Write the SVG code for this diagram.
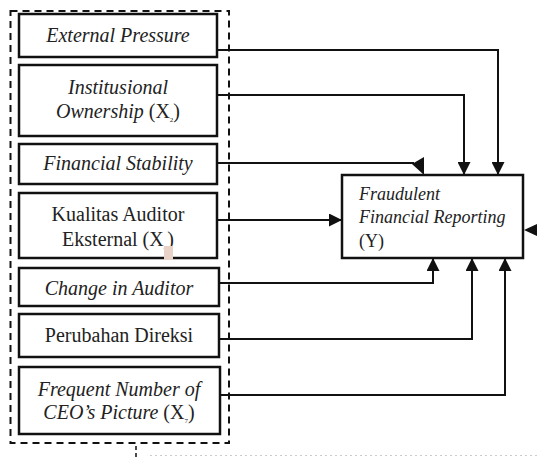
<svg xmlns="http://www.w3.org/2000/svg" width="539" height="458" viewBox="0 0 539 458">
<style>
.box{fill:#fff;stroke:#111;stroke-width:2.5}
.t{font-family:'Liberation Serif','DejaVu Serif',serif;font-size:20px;fill:#222;text-anchor:middle}
.ty{font-family:'Liberation Serif','DejaVu Serif',serif;font-size:18px;fill:#222}
.i{font-style:italic}
.sub{font-size:7px;font-style:normal}
.c{fill:none;stroke:#111;stroke-width:2}
.ah{fill:#111;stroke:none}
</style>
<defs>
<marker id="arr" markerUnits="userSpaceOnUse" markerWidth="13" markerHeight="13" refX="13" refY="6.5" orient="auto">
<path d="M0,0 L13,6.5 L0,13 z" fill="#111"/>
</marker>
</defs>
<rect x="0" y="0" width="539" height="458" fill="#fff"/>
<g id="group-box">
<rect x="10.5" y="11" width="218.5" height="432" fill="none" stroke="#111" stroke-width="2" stroke-dasharray="7 5"/>
<line x1="136" y1="446" x2="136" y2="458" stroke="#111" stroke-width="1.5" stroke-dasharray="4 3"/>
<line x1="150" y1="455.5" x2="539" y2="455.5" stroke="#ccc" stroke-width="1" stroke-dasharray="2 3"/>
</g>
<g id="connectors">
<path class="c" d="M217,50 H498 V175" marker-end="url(#arr)"/>
<path class="c" d="M217,95 H464 V175" marker-end="url(#arr)"/>
<path class="c" d="M217,163 H414"/>
<polygon class="ah" points="412,164 424,157 424,175"/>
<path class="c" d="M217,220 H342" marker-end="url(#arr)"/>
<path class="c" d="M219,283 H433 V258" marker-end="url(#arr)"/>
<path class="c" d="M219,339 H472 V258" marker-end="url(#arr)"/>
<path class="c" d="M220,395 H505 V258" marker-end="url(#arr)"/>
<polygon class="ah" points="524,230 537,224 537,236"/>
</g>
<g id="external-pressure">
<rect class="box" x="19" y="14" width="198" height="43"/>
<text class="t i" x="118" y="42" font-family="Liberation Serif">External Pressure</text>
</g>
<g id="institutional-ownership">
<rect class="box" x="19" y="65" width="198" height="71"/>
<text class="t i" x="118" y="94">Institusional</text>
<text class="t" x="118" y="118"><tspan class="i">Ownership</tspan> (X<tspan class="sub" dy="4">2</tspan><tspan dy="-4">)</tspan></text>
</g>
<g id="financial-stability">
<rect class="box" x="19" y="144" width="198" height="40"/>
<text class="t i" x="118" y="170">Financial Stability</text>
</g>
<g id="kualitas-auditor">
<rect class="box" x="19" y="193" width="198" height="65"/>
<text class="t" x="118" y="221">Kualitas Auditor</text>
<text class="t" x="118" y="246">Eksternal  (X<tspan class="sub" dy="4">4</tspan><tspan dy="-4">)</tspan></text>
<rect x="164" y="246" width="9" height="14" fill="#e9d3c8"/>
</g>
<g id="change-in-auditor">
<rect class="box" x="19" y="268" width="200" height="38"/>
<text class="t i" x="119" y="295">Change in Auditor</text>
</g>
<g id="perubahan-direksi">
<rect class="box" x="19" y="314" width="200" height="43"/>
<text class="t" x="119" y="342">Perubahan Direksi</text>
</g>
<g id="frequent-number">
<rect class="box" x="19" y="367" width="201" height="67"/>
<text class="t i" x="119" y="396">Frequent Number of</text>
<text class="t" x="119" y="419"><tspan class="i">CEO’s Picture</tspan> (X<tspan class="sub" dy="4">7</tspan><tspan dy="-4">)</tspan></text>
</g>
<g id="fraudulent-financial-reporting">
<rect class="box" x="342" y="175" width="181" height="83"/>
<text class="ty i" x="359" y="200">Fraudulent</text>
<text class="ty i" x="359" y="223">Financial Reporting</text>
<text class="ty" x="359" y="247">(Y)</text>
</g>
</svg>
